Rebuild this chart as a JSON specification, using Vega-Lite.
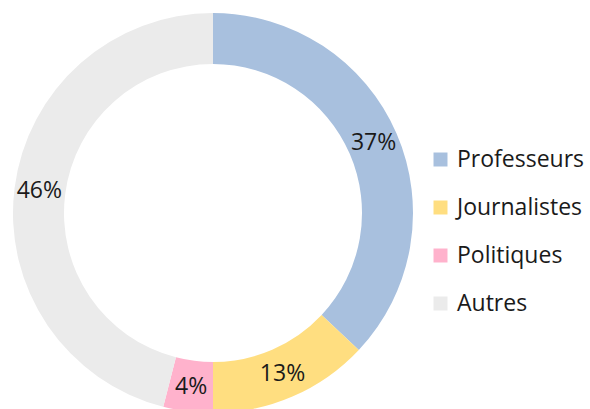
{
  "$schema": "https://vega.github.io/schema/vega-lite/v6.json",
  "width": 426,
  "height": 426,
  "autosize": {"type": "none"},
  "padding": {"left": 0, "top": 0, "right": 164, "bottom": -17},
  "background": "white",
  "config": {"view": {"stroke": null}, "font": "Open Sans"},
  "data": {
    "values": [
      {"categorie": "Professeurs", "part": 37, "ordre": 1, "label": "37%"},
      {"categorie": "Journalistes", "part": 13, "ordre": 2, "label": "13%"},
      {"categorie": "Politiques", "part": 4, "ordre": 3, "label": "4%"},
      {"categorie": "Autres", "part": 46, "ordre": 4, "label": "46%"}
    ]
  },
  "encoding": {
    "theta": {"field": "part", "type": "quantitative", "stack": true},
    "order": {"field": "ordre", "type": "quantitative"}
  },
  "layer": [
    {
      "mark": {"type": "arc", "radius": 200, "radius2": 149},
      "encoding": {
        "color": {
          "field": "categorie",
          "type": "nominal",
          "sort": ["Professeurs", "Journalistes", "Politiques", "Autres"],
          "scale": {
            "domain": ["Professeurs", "Journalistes", "Politiques", "Autres"],
            "range": ["#A8C0DE", "#FFDE80", "#FFB2CC", "#EBEBEB"]
          },
          "legend": {
            "title": null,
            "orient": "none",
            "legendX": 429,
            "legendY": 148,
            "symbolType": "square",
            "symbolSize": 196,
            "symbolStrokeWidth": 0,
            "labelFontSize": 23,
            "labelColor": "#1a1a1a",
            "labelOffset": 5,
            "rowPadding": 24,
            "labelFont": "Open Sans",
            "labelLimit": 300
          }
        }
      }
    },
    {
      "mark": {"type": "text", "radius": 175, "fontSize": 23, "color": "#1a1a1a", "font": "Open Sans"},
      "encoding": {
        "text": {"field": "label", "type": "nominal"}
      }
    }
  ]
}
